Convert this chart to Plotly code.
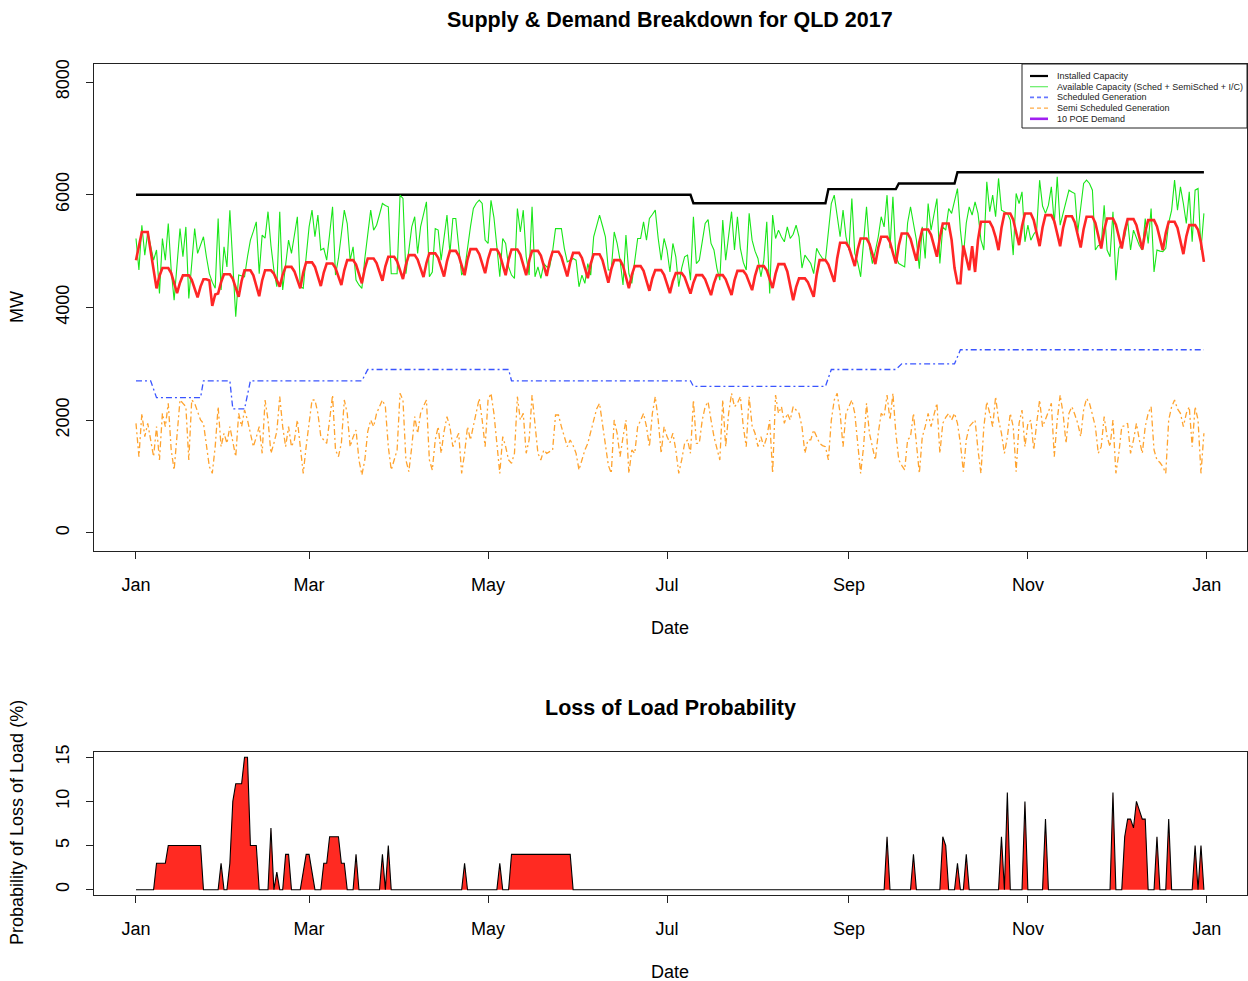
import pandas as pd
import plotly.graph_objects as go

# ---------------- data ----------------
dates = pd.date_range("2017-01-01", "2017-12-31", freq="D")

installed_dates = ["2017-01-01", "2017-07-09", "2017-07-10", "2017-08-24", "2017-08-25",
                   "2017-09-17", "2017-09-18", "2017-10-07", "2017-10-08", "2017-12-31"]
installed_mw = [6000, 6000, 5850, 5850, 6100, 6100, 6200, 6200, 6400, 6400]

scheduled_dates = ["2017-01-01", "2017-01-06", "2017-01-08", "2017-01-23", "2017-01-24",
                   "2017-02-02", "2017-02-03", "2017-02-07", "2017-02-09", "2017-03-19",
                   "2017-03-21", "2017-05-08", "2017-05-09", "2017-07-09", "2017-07-10",
                   "2017-08-24", "2017-08-26", "2017-09-17", "2017-09-19", "2017-10-07",
                   "2017-10-09", "2017-12-31"]
scheduled_mw = [2700, 2700, 2400, 2400, 2700, 2700, 2200, 2200, 2700, 2700,
                2900, 2900, 2700, 2700, 2600, 2600, 2900, 2900, 3000, 3000,
                3250, 3250]

available_mw = [
    5225, 4665, 5460, 4930, 5340, 5100, 4840, 5020, 4250, 5225,
    4840, 5490, 4665, 4130, 4800, 5400, 4900, 5430, 4160, 4800,
    5400, 4960, 5100, 5255, 4900, 4600, 4450, 4340, 5580, 4310,
    5077, 4720, 5727, 4665, 3836, 4575, 4560, 4545, 4900, 5195,
    5350, 5520, 4600, 5284, 5230, 5700, 5100, 4665, 4368, 5700,
    4310, 4780, 5195, 4960, 5300, 5610, 4368, 4340, 4900, 5430,
    5727, 5255, 5640, 5020, 5050, 4840, 5300, 5786, 4575, 4870,
    5300, 5727, 5490, 4840, 5077, 4486, 4400, 4340, 4870, 5300,
    5727, 5373, 5460, 5650, 5845, 5810, 5786, 4600, 4600, 4600,
    5993, 5934, 4600, 5000, 5430, 5610, 4960, 5430, 5640, 5875,
    4545, 4630, 5400, 5373, 4840, 5195, 5640, 4960, 5580, 5580,
    5080, 4575, 4665, 5100, 5430, 5757, 5850, 5905, 5845, 5195,
    5136, 5900, 5600, 5080, 4545, 5225, 5136, 4720, 4575, 4515,
    5757, 5340, 5727, 4900, 4575, 5786, 4545, 4720, 4515, 4780,
    4720, 4720, 5000, 5400, 5400, 5400, 5050, 4810, 4840, 4870,
    4840, 4368, 4575, 4427, 4780, 4575, 5255, 5450, 5640, 5450,
    5255, 4665, 4665, 5340, 5136, 4840, 4400, 5284, 4600, 4427,
    4780, 5225, 5225, 5520, 5195, 5580, 5650, 5727, 5225, 4840,
    5225, 5020, 4630, 5136, 4900, 4368, 4700, 4900, 4930, 4486,
    5610, 4780, 4840, 5200, 5490, 5560, 5136, 5020, 4700, 4486,
    5550, 4840, 5300, 5700, 5020, 5610, 5050, 4800, 4665, 5670,
    5195, 5000, 4870, 4545, 4840, 5520, 4250, 5640, 5225, 5373,
    5250, 5166, 5430, 5225, 5300, 5460, 5255, 4700, 4930, 4850,
    4780, 4600, 5050, 4950, 4870, 4840, 5300, 5845, 5993, 5600,
    5255, 5727, 5255, 5020, 5934, 4960, 4800, 4545, 5200, 5786,
    5077, 4780, 5000, 5255, 5610, 5430, 5993, 5050, 5963, 4900,
    4780, 4750, 4720, 5500, 5786, 5490, 5200, 4690, 5430, 4870,
    5845, 5373, 5650, 5934, 4780, 5430, 5373, 5757, 5670, 5900,
    6111, 5373, 4900, 5500, 5786, 5640, 5875, 5670, 5200, 5020,
    6229, 5700, 5993, 5610, 6290, 5727, 5700, 5670, 5550, 4930,
    6022, 5845, 6052, 5166, 5460, 5195, 5300, 5373, 6259, 5800,
    5670, 5815, 6140, 5490, 6318, 5460, 5670, 5900, 6081, 6050,
    6022, 5340, 5800, 6200, 6259, 6200, 6081, 5020, 5100, 5107,
    5815, 5020, 4900, 5700, 4486, 5050, 5150, 5255, 5550, 5020,
    5373, 5225, 5100, 5020, 5580, 5136, 5757, 4630, 5020, 5000,
    4990, 5050, 5500, 5727, 6259, 5727, 6140, 5845, 5490, 6052,
    5166, 6081, 6111, 5020, 5670]

semi_scheduled_mw = [
    1945, 1354, 2122, 1709, 1945, 1650, 1354, 1886, 1295, 2122,
    1886, 2300, 1472, 1118, 1800, 2359, 2300, 2240, 1295, 2359,
    2300, 2150, 2004, 1945, 1600, 1177, 1058, 1531, 2240, 1531,
    1768, 1590, 1886, 1600, 1354, 2122, 1886, 2181, 2004, 1768,
    1531, 1700, 1886, 1413, 2359, 2004, 1413, 1590, 1800, 2418,
    1886, 1531, 1886, 1531, 1650, 2004, 1500, 1058, 1531, 2000,
    2359, 2359, 2122, 1709, 1650, 1590, 2004, 2447, 1472, 1354,
    1590, 2359, 2122, 1531, 1700, 1827, 1295, 1029, 1295, 1800,
    2004, 1886, 2122, 2250, 2359, 2240, 1531, 1118, 1300, 1472,
    2477, 2359, 1295, 1088, 1531, 2063, 1768, 2122, 2250, 2359,
    1295, 1118, 1650, 1886, 1413, 1800, 2063, 1886, 1531, 1650,
    1768, 1058, 1413, 1886, 1650, 1900, 2122, 2388, 2004, 1531,
    2359, 2477, 2122, 1531, 1058, 1709, 1531, 1295, 1236, 1413,
    2418, 2004, 2122, 1413, 1650, 2447, 1886, 1413, 1295, 1472,
    1413, 1440, 1472, 2093, 2093, 1886, 1700, 1531, 1650, 1550,
    1413, 1118, 1295, 1472, 1590, 1800, 2004, 2200, 2300, 1945,
    1531, 1200, 1058, 2004, 1768, 1354, 1700, 2004, 1058, 1472,
    1413, 1886, 2000, 2122, 1886, 1531, 2122, 2418, 2004, 1413,
    1886, 1709, 1600, 1768, 1472, 1058, 1295, 1590, 1650, 1413,
    2359, 1590, 1590, 2000, 2240, 2329, 2004, 1709, 1500, 1295,
    2359, 1531, 2122, 2477, 2240, 2300, 2418, 1886, 1531, 2418,
    1900, 1768, 1531, 1709, 1531, 1700, 2004, 1058, 2447, 2122,
    2240, 1945, 2122, 2004, 2240, 2180, 2122, 1886, 1413, 1650,
    1650, 1827, 1709, 1590, 1550, 1531, 1295, 2000, 2359, 2477,
    2122, 1531, 2122, 2240, 2359, 2122, 1590, 1058, 1531, 2300,
    1768, 1500, 1295, 1768, 2122, 2063, 2447, 2004, 2477, 1768,
    1295, 1200, 1118, 1650, 1709, 2122, 1590, 1058, 1700, 1886,
    2122, 1886, 2100, 2300, 1413, 1945, 2050, 2122, 2004, 2122,
    1945, 1590, 1088, 1650, 1886, 1950, 2004, 1472, 1058, 1886,
    2329, 2122, 1886, 2418, 2004, 1768, 1413, 1700, 2122, 1886,
    1088, 1945, 2181, 1531, 1945, 2000, 1472, 1945, 2359, 1886,
    2004, 2150, 2300, 1354, 2004, 2447, 2122, 1590, 2122, 2240,
    2100, 1945, 1709, 2181, 2388, 2300, 2100, 1886, 1413, 1531,
    2063, 1709, 1531, 2004, 1058, 1413, 1886, 1900, 1945, 1413,
    1650, 1945, 1650, 1413, 1886, 2122, 2240, 1472, 1295, 1250,
    1177, 1058, 2004, 2240, 2359, 2200, 2122, 1886, 2122, 2240,
    1531, 2240, 2004, 1058, 1768]

demand_10poe_mw = [
    4840, 5100, 5340, 5340, 5340, 5000, 4700,
    4340, 4560, 4700, 4700, 4700, 4610, 4430,
    4255, 4440, 4570, 4570, 4570, 4490, 4340,
    4180, 4370, 4500, 4500, 4480, 4030, 4230,
    4250, 4450, 4590, 4590, 4590, 4510, 4350,
    4190, 4470, 4660, 4660, 4660, 4570, 4380,
    4200, 4480, 4660, 4660, 4660, 4600, 4490,
    4370, 4580, 4720, 4720, 4720, 4640, 4490,
    4340, 4620, 4800, 4800, 4800, 4720, 4550,
    4380, 4620, 4780, 4780, 4780, 4700, 4550,
    4400, 4660, 4840, 4840, 4840, 4760, 4590,
    4430, 4690, 4870, 4870, 4870, 4790, 4630,
    4475, 4730, 4900, 4900, 4900, 4820, 4660,
    4505, 4760, 4930, 4930, 4930, 4850, 4700,
    4540, 4790, 4960, 4960, 4960, 4880, 4710,
    4550, 4820, 5005, 5005, 5005, 4920, 4750,
    4574, 4850, 5035, 5035, 5035, 4950, 4780,
    4610, 4860, 5030, 5030, 5030, 4940, 4760,
    4574, 4850, 5030, 5030, 5030, 4940, 4760,
    4574, 4830, 5005, 5005, 5005, 4920, 4740,
    4560, 4820, 4990, 4990, 4990, 4900, 4730,
    4550, 4800, 4970, 4970, 4970, 4880, 4700,
    4520, 4780, 4945, 4945, 4945, 4840, 4640,
    4440, 4680, 4840, 4840, 4840, 4740, 4540,
    4344, 4580, 4734, 4734, 4734, 4650, 4470,
    4297, 4520, 4663, 4663, 4663, 4580, 4420,
    4255, 4470, 4610, 4610, 4610, 4540, 4390,
    4245, 4440, 4574, 4574, 4574, 4500, 4360,
    4220, 4430, 4574, 4574, 4574, 4500, 4360,
    4220, 4480, 4650, 4650, 4650, 4580, 4450,
    4308, 4560, 4734, 4734, 4734, 4660, 4500,
    4344, 4600, 4770, 4770, 4770, 4640, 4390,
    4131, 4360, 4516, 4516, 4516, 4450, 4320,
    4190, 4580, 4840, 4840, 4840, 4760, 4610,
    4456, 4870, 5150, 5150, 5150, 5070, 4900,
    4734, 5030, 5225, 5225, 5225, 5130, 4950,
    4770, 5060, 5254, 5254, 5254, 5160, 4970,
    4780, 5100, 5313, 5313, 5313, 5220, 5020,
    4829, 5160, 5384, 5384, 5384, 5290, 5090,
    4900, 5240, 5490, 5490, 5490, 5200, 4700,
    4430, 4430, 5100, 4900, 4660, 5090, 4630,
    5200, 5520, 5520, 5520, 5520, 5420, 5250,
    5018, 5410, 5668, 5668, 5668, 5560, 5330,
    5106, 5440, 5668, 5668, 5668, 5550, 5320,
    5088, 5420, 5638, 5638, 5638, 5530, 5310,
    5088, 5410, 5620, 5620, 5620, 5510, 5290,
    5065, 5390, 5609, 5609, 5609, 5500, 5270,
    5047, 5370, 5580, 5580, 5580, 5470, 5260,
    5047, 5360, 5567, 5567, 5567, 5460, 5250,
    5030, 5340, 5550, 5550, 5550, 5440, 5230,
    5018, 5320, 5520, 5520, 5520, 5410, 5180,
    4947, 5260, 5461, 5461, 5461, 5380, 5150,
    4810]

# Loss of load probability (%): day-of-year index (0 = 1 Jan) and value; other days are 0
lolp_day = [7, 8, 9, 10, 11, 12, 13, 14, 15, 16, 17, 18, 19, 20, 21, 22,
            29,
            32, 33, 34, 35, 36, 37, 38, 39, 40, 41,
            46, 48, 51, 52, 57, 58, 59, 60,
            64, 65, 66, 67, 68, 69, 70, 71,
            75, 84, 86, 112, 124,
            128, 129, 130, 131, 132, 133, 134, 135, 136, 137, 138, 139, 140,
            141, 142, 143, 144, 145, 146, 147, 148,
            256, 265, 275, 276, 280, 283, 295, 297, 303, 310, 333,
            337, 338, 339, 340, 341, 342, 343, 344,
            348, 352, 361, 363]
lolp_pct = [3, 3, 3, 3, 5, 5, 5, 5, 5, 5, 5, 5, 5, 5, 5, 5,
            3,
            3, 10, 12, 12, 12, 15, 15, 5, 5, 5,
            7, 2, 4, 4, 2, 4, 4, 2,
            3, 3, 6, 6, 6, 6, 3, 3,
            4, 4, 5, 3, 3,
            4, 4, 4, 4, 4, 4, 4, 4, 4, 4, 4, 4, 4,
            4, 4, 4, 4, 4, 4, 4, 4,
            6, 4, 6, 5, 3, 4, 6, 11, 10, 8, 11,
            6, 8, 8, 7, 10, 9, 8, 8,
            6, 8, 5, 5]

month_tick_dates = ["2017-01-01", "2017-03-01", "2017-05-01", "2017-07-01",
                    "2017-09-01", "2017-11-01", "2018-01-01"]
month_tick_labels = ["Jan", "Mar", "May", "Jul", "Sep", "Nov", "Jan"]
mw_ticks = [0, 2000, 4000, 6000, 8000]
lolp_ticks = [0, 5, 10, 15]

legend_labels = ["Installed Capacity", "Available Capacity (Sched + SemiSched + I/C)",
                 "Scheduled Generation", "Semi Scheduled Generation", "10 POE Demand"]

# ---------------- styling ----------------
W, H = 1248, 981
FONT = "Liberation Sans, Arial, Helvetica, sans-serif"
C_BLACK = "#000000"
C_GREEN = "#19E619"
C_BLUE = "#3A55FF"
C_ORANGE = "#FFA32E"
C_RED = "#FF2626"
C_PURPLE = "#A020F0"
C_FILL = "#FF2A22"
DOTDASH = "6px,3px,2px,3px"


def px(x):
    return x / W


def py(y):
    return 1 - y / H


lolp_full = [0] * len(dates)
for d, v in zip(lolp_day, lolp_pct):
    lolp_full[d] = v

fig = go.Figure()
fig.add_trace(go.Scatter(x=installed_dates, y=installed_mw, mode="lines",
                         line=dict(color=C_BLACK, width=2.4), xaxis="x", yaxis="y"))
fig.add_trace(go.Scatter(x=dates[:len(available_mw)], y=available_mw, mode="lines",
                         line=dict(color=C_GREEN, width=1.1), xaxis="x", yaxis="y"))
fig.add_trace(go.Scatter(x=scheduled_dates, y=scheduled_mw, mode="lines",
                         line=dict(color=C_BLUE, width=1.3, dash=DOTDASH), xaxis="x", yaxis="y"))
fig.add_trace(go.Scatter(x=dates[:len(semi_scheduled_mw)], y=semi_scheduled_mw, mode="lines",
                         line=dict(color=C_ORANGE, width=1.3, dash=DOTDASH), xaxis="x", yaxis="y"))
fig.add_trace(go.Scatter(x=dates[:len(demand_10poe_mw)], y=demand_10poe_mw, mode="lines",
                         line=dict(color=C_RED, width=2.6), xaxis="x", yaxis="y"))
fig.add_trace(go.Scatter(x=dates, y=lolp_full, mode="lines", fill="tozeroy",
                         fillcolor=C_FILL, line=dict(color=C_BLACK, width=1.1),
                         xaxis="x2", yaxis="y2"))

x_range = ["2016-12-17 16:30", "2018-01-14 16:30"]
axis_common = dict(showline=True, linecolor="#222", linewidth=1, mirror=True,
                   ticks="outside", ticklen=7, tickwidth=1, tickcolor="#222",
                   showgrid=False, zeroline=False,
                   tickfont=dict(family=FONT, size=18, color="#000"))

fig.update_layout(
    width=W, height=H, margin=dict(l=0, r=0, t=0, b=0, autoexpand=False),
    autosize=False,
    paper_bgcolor="white", plot_bgcolor="white", showlegend=False,
    font=dict(family=FONT, color="#000"),
    xaxis=dict(domain=[px(94), px(1247)], anchor="y", range=x_range, type="date",
               tickvals=month_tick_dates, ticktext=month_tick_labels,
               ticklabelstandoff=10, **axis_common),
    yaxis=dict(domain=[py(551), py(64)], anchor="x", range=[-320, 8320],
               tickvals=mw_ticks, tickangle=-90, ticklabelstandoff=10, **axis_common),
    xaxis2=dict(domain=[px(94), px(1247)], anchor="y2", range=x_range, type="date",
                tickvals=month_tick_dates, ticktext=month_tick_labels,
                ticklabelstandoff=10, **axis_common),
    yaxis2=dict(domain=[py(895), py(752)], anchor="x2", range=[-0.6, 15.6],
                tickvals=lolp_ticks, tickangle=-90, ticklabelstandoff=10, **axis_common),
)

ann = []
ann.append(dict(x=px(670), y=py(20), xref="paper", yref="paper", showarrow=False,
                text="<b>Supply &amp; Demand Breakdown for QLD 2017</b>",
                font=dict(family=FONT, size=21.5, color="#000"), xanchor="center", yanchor="middle"))
ann.append(dict(x=px(670), y=py(628), xref="paper", yref="paper", showarrow=False, text="Date",
                font=dict(family=FONT, size=18, color="#000"), xanchor="center", yanchor="middle"))
ann.append(dict(x=px(17), y=py(307), xref="paper", yref="paper", showarrow=False, text="MW",
                textangle=-90, font=dict(family=FONT, size=18, color="#000"),
                xanchor="center", yanchor="middle"))
ann.append(dict(x=px(670), y=py(708), xref="paper", yref="paper", showarrow=False,
                text="<b>Loss of Load Probability</b>",
                font=dict(family=FONT, size=21.5, color="#000"), xanchor="center", yanchor="middle"))
ann.append(dict(x=px(670), y=py(972), xref="paper", yref="paper", showarrow=False, text="Date",
                font=dict(family=FONT, size=18, color="#000"), xanchor="center", yanchor="middle"))
ann.append(dict(x=px(17), y=py(823), xref="paper", yref="paper", showarrow=False,
                text="Probability of Loss of Load (%)", textangle=-90,
                font=dict(family=FONT, size=18, color="#000"), xanchor="center", yanchor="middle"))

# manual legend (compact, R style)
shapes = [dict(type="rect", xref="paper", yref="paper", x0=px(1022), x1=px(1247),
               y0=py(128), y1=py(64), line=dict(color="#222", width=1),
               fillcolor="white", layer="above")]
leg_colors = [C_BLACK, "#66EE66", "#6677FF", "#FFAA44", C_PURPLE]
leg_dash = ["solid", "solid", "4px,3px", "4px,3px", "solid"]
leg_width = [2.2, 1.2, 1.6, 1.2, 2.6]
for i, lab in enumerate(legend_labels):
    yy = 76 + 10.7 * i
    shapes.append(dict(type="line", xref="paper", yref="paper", x0=px(1030), x1=px(1048),
                       y0=py(yy), y1=py(yy), layer="above",
                       line=dict(color=leg_colors[i], width=leg_width[i], dash=leg_dash[i])))
    ann.append(dict(x=px(1055), y=py(yy), xref="paper", yref="paper", showarrow=False,
                    text=lab, font=dict(family=FONT, size=9, color="#222"),
                    xanchor="left", yanchor="middle"))

fig.update_layout(annotations=ann, shapes=shapes)
fig.write_html(
    "out.html",
    config={"responsive": False, "displayModeBar": False},
    post_script=("document.body.style.margin='0';"
                 "document.body.style.overflow='hidden';"
                 "document.documentElement.style.overflow='hidden';"),
)
